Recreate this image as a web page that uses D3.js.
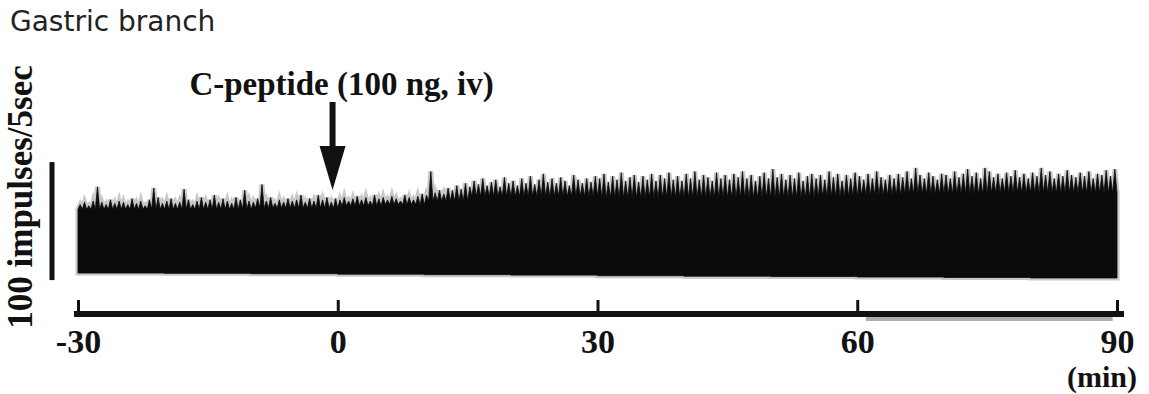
<!DOCTYPE html>
<html>
<head>
<meta charset="utf-8">
<script src="https://cdn.jsdelivr.net/npm/d3@7"></script>
<style>
  body { margin: 0; background: #fff; }
  svg { display: block; }
</style>
</head>
<body>
<svg id="chart" width="1149" height="394"></svg>
<script>
// ---- data ----
const title = "Gastric branch";
const yLabel = "100 impulses/5sec";
const injectionLabel = "C-peptide (100 ng, iv)";
const injectionTime = -0.6;          // min
const timeTicks = [-30, 0, 30, 60, 90];
const unitLabel = "(min)";
const scaleBar = [-6, 94];           // impulses/5sec (100 units)

// peak rate of each 30 s bin, -30 .. 90 min (impulses/5sec)
const binWidth = 0.5;
const peakRate = [
  58,60,57,61,73,60,58,62,59,61,
  60,58,63,59,61,57,62,72,64,59,
  61,63,59,60,71,62,58,61,64,60,
  62,66,60,63,61,59,64,62,70,61,
  60,63,75,61,64,59,62,60,63,61,
  62,66,60,63,61,66,62,64,60,63,
  62,64,61,63,65,62,64,61,66,63,
  64,62,65,63,61,66,64,62,65,67,
  66,86,68,70,67,72,70,74,71,76,
  73,78,75,80,74,77,79,73,81,76,
  78,74,80,76,82,75,79,84,77,80,
  76,81,78,74,83,79,76,80,77,82,
  80,84,77,82,79,85,78,81,83,77,
  82,79,84,78,83,80,85,79,82,78,
  84,80,86,79,83,81,78,85,80,83,
  79,84,81,86,80,83,78,82,85,80,
  88,81,84,79,83,80,85,78,82,84,
  80,83,79,86,81,84,78,83,80,85,
  82,79,84,80,86,81,79,83,80,84,
  81,86,80,89,83,80,85,82,79,84,
  83,80,86,81,84,88,82,85,80,89,
  86,81,84,80,85,82,87,81,84,80,
  85,82,89,83,86,80,84,82,87,83,
  81,85,82,86,80,84,83,87,82,88
];

// solid (tonic) level per 5 min block
const floorBlock = 5;
const floorRate = [54,54,54,54,55,55, 57,58,61,65,65,65, 64,64,64,64,64,65, 66,67,67,68,68,68];

// pen baseline drift per 10 min block
const baseBlock = 10;
const baseRate = [0,-0.3,-0.6,-1,-1.4,-1.8,-2.3,-2.7,-3,-3.4,-3.8,-4.2];

// ---- drawing ----
const svg = d3.select("#chart");
const serif = "'Liberation Serif', 'Times New Roman', serif";

const x = d3.scaleLinear().domain([-30, 90]).range([78, 1117]);
const y = d3.scaleLinear().domain([0, 100]).range([273, 155]);

svg.append("text")
  .attr("x", 10).attr("y", 31)
  .attr("font-family", "'DejaVu Sans', sans-serif")
  .attr("font-size", 28)
  .attr("fill", "#222")
  .text(title);

// y label + calibration bar
svg.append("text")
  .attr("transform", "translate(32,197) rotate(-90)")
  .attr("text-anchor", "middle")
  .attr("font-family", serif)
  .attr("font-weight", "bold")
  .attr("font-size", 35)
  .attr("fill", "#111")
  .text(yLabel);

svg.append("line")
  .attr("x1", 52).attr("x2", 52)
  .attr("y1", y(scaleBar[0])).attr("y2", y(scaleBar[1]))
  .attr("stroke", "#111").attr("stroke-width", 5);

// trace: top edge from spikes, bottom edge from baseline
const t0 = x.domain()[0];
const floorAt = t => floorRate[Math.min(floorRate.length - 1, Math.floor((t - t0) / floorBlock))];
let topEdge = [[t0, floorAt(t0)]];
peakRate.forEach((v, i) => {
  const a = t0 + i * binWidth;
  topEdge.push([a + binWidth * 0.5, v]);
  topEdge.push([a + binWidth, floorAt(a + binWidth - 0.001)]);
});
let bottomEdge = [];
baseRate.forEach((v, i) => {
  bottomEdge.push([t0 + i * baseBlock, v]);
  bottomEdge.push([t0 + (i + 1) * baseBlock, v]);
});
bottomEdge.reverse();

const line = d3.line().x(d => x(d[0])).y(d => y(d[1]));
const traceD = line(topEdge.concat(bottomEdge)) + "Z";

// soft photocopy halo, then the solid trace
svg.append("path")
  .attr("d", traceD)
  .attr("fill", "none")
  .attr("stroke", "#c8c8c8")
  .attr("stroke-width", 5)
  .attr("stroke-linejoin", "miter");
svg.append("path")
  .attr("d", traceD)
  .attr("fill", "#0b0b0b")
  .attr("stroke", "#0b0b0b")
  .attr("stroke-width", 0.8);

// injection arrow + label
const ax = x(injectionTime);
svg.append("line")
  .attr("x1", ax).attr("x2", ax)
  .attr("y1", 102).attr("y2", 150)
  .attr("stroke", "#111").attr("stroke-width", 6);
svg.append("path")
  .attr("d", `M${ax - 13},146 L${ax + 13},146 L${ax},190 Z`)
  .attr("fill", "#111");
svg.append("text")
  .attr("x", ax + 9).attr("y", 95)
  .attr("text-anchor", "middle")
  .attr("font-family", serif)
  .attr("font-weight", "bold")
  .attr("font-size", 33)
  .attr("fill", "#111")
  .text(injectionLabel);

// time axis
const axisY = 314;
svg.append("rect")
  .attr("x", x(61)).attr("y", axisY)
  .attr("width", x(89.5) - x(61)).attr("height", 7)
  .attr("fill", "#777").attr("opacity", 0.6);

const axis = d3.axisBottom(x)
  .tickValues(timeTicks)
  .tickSizeInner(-14)
  .tickSizeOuter(0)
  .tickPadding(15)
  .tickFormat(d => String(d));

const gAxis = svg.append("g")
  .attr("transform", `translate(0,${axisY})`)
  .call(axis);
gAxis.select(".domain").remove();
gAxis.selectAll(".tick line").attr("stroke", "#111").attr("stroke-width", 3);
gAxis.selectAll(".tick text")
  .attr("fill", "#111")
  .attr("font-family", serif)
  .attr("font-weight", "bold")
  .attr("font-size", 34);

svg.append("line")
  .attr("x1", x(-30) - 4).attr("x2", x(90) + 7)
  .attr("y1", axisY).attr("y2", axisY)
  .attr("stroke", "#111").attr("stroke-width", 6);

svg.append("text")
  .attr("x", 1137).attr("y", 387)
  .attr("text-anchor", "end")
  .attr("font-family", serif)
  .attr("font-weight", "bold")
  .attr("font-size", 30)
  .attr("fill", "#111")
  .text(unitLabel);
</script>
</body>
</html>
